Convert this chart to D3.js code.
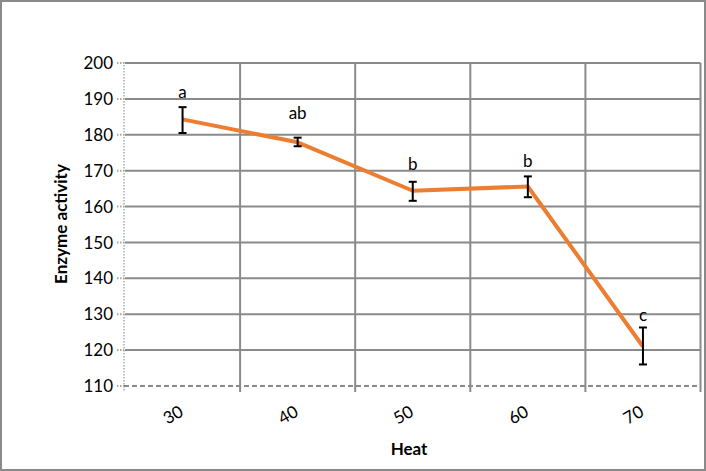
<!DOCTYPE html>
<html><head><meta charset="utf-8">
<script src="https://cdn.jsdelivr.net/npm/d3@7"></script>
<style>body{margin:0;background:#fff}svg{display:block}text{font-family:Lato,"Open Sans",sans-serif}</style>
</head><body>
<svg id="c" width="706" height="471"></svg>
<script>
const categories = ["30","40","50","60","70"];
const values = [184.3, 177.9, 164.4, 165.6, 121.0];
const errUpper = [187.7, 179.2, 166.9, 168.4, 126.3];
const errLower = [180.5, 176.8, 161.6, 162.6, 116.0];
const groupLabels = ["a","ab","b","b","c"];
const groupLabelAt = [190.2, 184.5, 170.2, 170.9, 128.0];
const yTicks = [110,120,130,140,150,160,170,180,190,200];

(function(){
const svg = d3.select("#c");
const W = 706, H = 471;
const pLeft = 125, pRight = 700.5, pTop = 63, pBottom = 386;
const grid = "#8a8a8a";

svg.append("rect").attr("x",1).attr("y",1).attr("width",W-2).attr("height",H-2)
  .attr("fill","#fff").attr("stroke",grid).attr("stroke-width",2);

const x = d3.scaleBand().domain(categories).range([pLeft, pRight]).padding(0);
const y = d3.scaleLinear().domain([110,200]).range([pBottom, pTop]);

// horizontal gridlines
svg.append("g").selectAll("line").data(yTicks.filter(t=>t>110)).join("line")
  .attr("x1",pLeft).attr("x2",pRight).attr("y1",d=>y(d)).attr("y2",d=>y(d))
  .attr("stroke",grid).attr("stroke-width",2);
// vertical gridlines at band boundaries
const bounds = categories.map(c=>x(c)+x.bandwidth());
svg.append("g").selectAll("line").data(bounds).join("line")
  .attr("x1",d=>d).attr("x2",d=>d).attr("y1",pTop).attr("y2",pBottom+6)
  .attr("stroke",grid).attr("stroke-width",2);

// y axis (dotted)
svg.append("line").attr("x1",pLeft-1).attr("x2",pLeft-1).attr("y1",pTop-1).attr("y2",pBottom+6)
  .attr("stroke","#a8a8a8").attr("stroke-width",1.5).attr("stroke-dasharray","1.5,1.5");
svg.append("g").selectAll("line").data(yTicks).join("line")
  .attr("x1",pLeft-8).attr("x2",pLeft-1).attr("y1",d=>y(d)).attr("y2",d=>y(d))
  .attr("stroke","#a8a8a8").attr("stroke-width",2).attr("stroke-dasharray","1.5,1.5");
svg.append("g").selectAll("text").data(yTicks).join("text")
  .attr("x",113).attr("y",d=>y(d)).attr("dy","0.36em").attr("text-anchor","end")
  .attr("font-size",17).attr("fill","#000").text(d=>d);

// x axis (dashed)
svg.append("line").attr("x1",pLeft-1).attr("x2",pRight).attr("y1",pBottom).attr("y2",pBottom)
  .attr("stroke",grid).attr("stroke-width",2).attr("stroke-dasharray","5,3");
svg.append("g").selectAll("text").data(categories).join("text")
  .attr("transform",d=>`translate(${x(d)+x.bandwidth()/2+2},${pBottom+29}) rotate(-30)`)
  .attr("text-anchor","end").attr("font-size",17).attr("fill","#000").text(d=>d);

// line
const cx = d=>x(d)+x.bandwidth()/2;
svg.append("path").datum(categories.map((c,i)=>[cx(c), y(values[i])]))
  .attr("d",d3.line()).attr("fill","none").attr("stroke","#ED7D31").attr("stroke-width",4)
  .attr("stroke-linejoin","round");

// error bars
const eb = svg.append("g").attr("stroke","#000").attr("stroke-width",2);
categories.forEach((c,i)=>{
  const X = cx(c);
  eb.append("line").attr("x1",X).attr("x2",X).attr("y1",y(errUpper[i])).attr("y2",y(errLower[i]));
  eb.append("line").attr("x1",X-4).attr("x2",X+4).attr("y1",y(errUpper[i])).attr("y2",y(errUpper[i]));
  eb.append("line").attr("x1",X-4).attr("x2",X+4).attr("y1",y(errLower[i])).attr("y2",y(errLower[i]));
});

// group labels
svg.append("g").selectAll("text").data(categories).join("text")
  .attr("x",d=>cx(d)).attr("y",(d,i)=>y(groupLabelAt[i]))
  .attr("text-anchor","middle").attr("font-size",17).attr("fill","#000").text((d,i)=>groupLabels[i]);

// titles
svg.append("text").attr("transform","translate(67,224) rotate(-90)").attr("text-anchor","middle")
  .attr("font-size",17).attr("font-weight","bold").text("Enzyme activity");
svg.append("text").attr("x",409).attr("y",455).attr("text-anchor","middle")
  .attr("font-size",17).attr("font-weight","bold").text("Heat");
})();
</script>
</body></html>
